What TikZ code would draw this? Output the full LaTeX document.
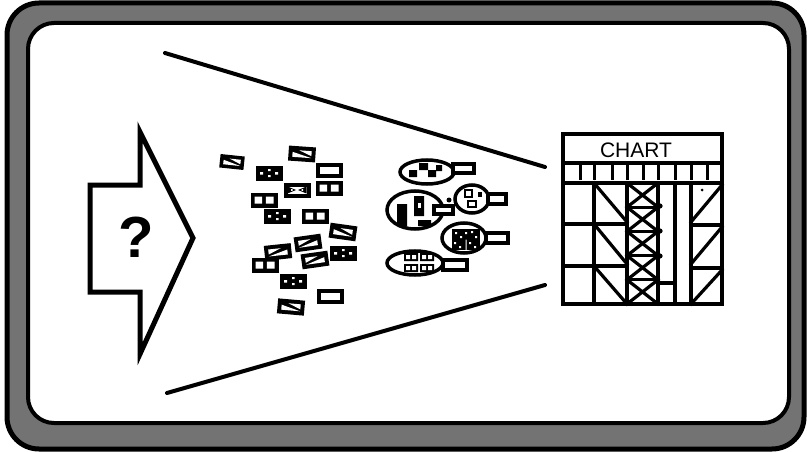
\documentclass[tikz,border=0pt]{standalone}
\usepackage{fontspec}
\setmainfont{Liberation Sans}
\tikzset{
  pics/single/.style={code={\fill (-13.5,-7.5) rectangle (13.5,7.5); \fill[white] (-9.5,-3.5) rectangle (9.5,3.5);}},
  pics/twopane/.style={code={\fill (-13.5,-7.5) rectangle (13.5,7.5); \fill[white] (-9.5,-3.5) rectangle (-1.8,3.5) (1.8,-3.5) rectangle (9.5,3.5);}},
  pics/dots/.style={code={\fill (-13.5,-7.5) rectangle (13.5,7.5); \fill[white] (-9,-1) rectangle (-6,1.5) (-1,-4) rectangle (1.5,-2) (-1,2) rectangle (1.5,4) (6,-1) rectangle (9,1.5);}},
  pics/diag/.style={code={\fill (-13.5,-7.5) rectangle (13.5,7.5); \fill[white] (-9.5,-1.5) -- (-9.5,3.5) -- (9.5,3.5) -- cycle; \fill[white] (-3,-3.5) -- (9.5,-3.5) -- (9.5,1.5) -- cycle;}},
  pics/bowtie/.style={code={\fill (-13.5,-7.5) rectangle (13.5,7.5); \fill[white] (-9.5,-3.5) rectangle (9.5,3.5); \fill (-9.5,-3.5) -- (-1,0) -- (-9.5,3.5) -- cycle; \fill (9.5,-3.5) -- (1,0) -- (9.5,3.5) -- cycle; \fill[white] (-6,-0.8) rectangle (-4.5,0.8) (4.5,-0.8) rectangle (6,0.8);}},
  blob/.style={draw, line width=3.5pt, fill=white},
  tag/.style={draw, line width=3.5pt, fill=white},
  grid line/.style={line width=3.2pt, line cap=rect},
  ray/.style={line width=4pt, line cap=round},
}
\begin{document}
\begin{tikzpicture}[x=1pt,y=-1pt]
\useasboundingbox (0,0) rectangle (807,452);
% frame
\draw[line width=5pt, fill=black!55, rounded corners=32pt] (7,3) rectangle (804,449);
\draw[line width=4pt, fill=white, rounded corners=26pt] (28,23) rectangle (789,423);

% rays
\coordinate (rtA) at (165,53);
\coordinate (rtB) at (545,167);
\coordinate (rbA) at (167,393);
\coordinate (rbB) at (545,285);
\draw[ray] (rtA) -- (rtB);
\draw[ray] (rbA) -- (rbB);

% arrow
\draw[line width=5pt, line join=miter, fill=white] (90,185) -- (140,185) -- (140,132) -- (193,238) -- (140,354) -- (140,292) -- (90,292) -- cycle;
\node[font=\fontsize{58}{58}\selectfont\bfseries, inner sep=0pt] (qmark) at (136,237) {?};

% scattered chips
\pic[rotate=-6, scale=0.9] at (232,162) {diag};
\pic[rotate=-4] at (302,154) {diag};
\pic at (269,173) {dots};
\pic at (329,170) {single};
\pic at (297,190) {bowtie};
\pic at (329,188) {twopane};
\pic at (264,200) {twopane};
\pic at (277,216) {dots};
\pic at (315,216) {twopane};
\pic[rotate=-8] at (343,232) {diag};
\pic[rotate=8, xscale=-1] at (308,243) {diag};
\pic[rotate=6, xscale=-1] at (278,252) {diag};
\pic at (343,253) {dots};
\pic[rotate=8, xscale=-1] at (315,260) {diag};
\pic at (265,265) {twopane};
\pic at (293,281) {dots};
\pic at (330,296) {single};
\pic[rotate=-5] at (291,307) {diag};

% blob A
\draw[blob] (427,172) ellipse [x radius=27, y radius=12];
\fill (409,170) rectangle (417,177) (419,163) rectangle (428,170) (428,170) rectangle (436,177) (436,165) rectangle (442,171);
\draw[tag] (453,164) rectangle (474,173);
% blob B
\draw[blob] (415,210) ellipse [x radius=28, y radius=19];
\fill (397,204) rectangle (407,226) (414,196) rectangle (424,216) (418,220) rectangle (431,226);
\fill[white] (418,203) rectangle (421,208);
\draw[tag] (434,206) rectangle (453,214);
\fill (449,200) circle [radius=2.5];
% blob C
\draw[blob] (472,199) ellipse [x radius=17, y radius=14];
\draw[line width=2pt] (465,190) rectangle (472,197) (468,201) rectangle (476,207);
\fill (478,192) rectangle (482,197);
\draw[tag] (488,194) rectangle (506,204);
% blob D
\draw[blob] (464,238) ellipse [x radius=22, y radius=15];
\fill (452,229) rectangle (480,250);
\fill[white] (455,232) rectangle (457,234) (460,236) rectangle (462,238) (465,232) rectangle (467,234) (471,231) rectangle (473,233) (475,236) rectangle (477,238) (454,242) rectangle (456,244) (459,246) rectangle (461,248) (469,242) rectangle (471,244) (474,246) rectangle (476,248) (465.5,239.5) rectangle (466.5,250);
\draw[tag] (486,233) rectangle (508,243);
% blob E
\draw[blob] (415,263) ellipse [x radius=28, y radius=12];
\fill (404,253) rectangle (418,261) (420,253) rectangle (434,261) (404,264) rectangle (418,272) (420,264) rectangle (434,272);
\fill[white] (406,255) rectangle (410,259) (412,255) rectangle (416,259) (422,255) rectangle (426,259) (428,255) rectangle (432,259) (406,266) rectangle (410,270) (412,266) rectangle (416,270) (422,266) rectangle (426,270) (428,266) rectangle (432,270);
\draw[tag] (443,260) rectangle (467,270);

% chart
\draw[grid line, fill=white] (563,134) rectangle (722,304);
\node[font=\fontsize{21}{21}\selectfont, inner sep=0pt] (charttitle) at (636,150) {CHART};
\draw[grid line] (563,163) -- (722,163);
\draw[grid line] (563,183) -- (722,183);
% header ticks
\foreach \tx in {580,594,612,627,643,658,675,691,707}{
  \draw[line width=3pt] (\tx,163) -- (\tx,180);
}
% column lines
\foreach \cx in {594,627,658,675,691}{
  \draw[grid line] (\cx,183) -- (\cx,304);
}
% row lines left and col2
\draw[grid line] (563,224) -- (627,224);
\draw[grid line] (563,266) -- (627,266);
% col2 diagonals
\draw[grid line] (594,183) -- (627,222);
\draw[grid line] (594,224) -- (627,264);
\draw[grid line] (594,266) -- (627,304);
% col3 Xs
\foreach \k in {0,1,2,3,4}{
  \pgfmathsetmacro{\ya}{183+\k*24.2}
  \pgfmathsetmacro{\yb}{183+(\k+1)*24.2}
  \draw[grid line] (627,\ya) -- (658,\yb);
  \draw[grid line] (658,\ya) -- (627,\yb);
  \draw[grid line] (627,\yb) -- (658,\yb);
}
\fill (660,206) circle [radius=2.6];
\fill (660,231) circle [radius=2.6];
\fill (660,256) circle [radius=2.6];
% col4
\draw[grid line] (658,283) -- (675,283);
% right cols
\draw[grid line] (691,225) -- (722,225);
\draw[grid line] (691,268) -- (722,268);
\draw[grid line] (691,222) -- (722,185);
\draw[grid line] (691,264) -- (722,227);
\draw[grid line] (691,304) -- (722,270);
\fill (702,190) circle [radius=1.5];
\end{tikzpicture}
\end{document}
